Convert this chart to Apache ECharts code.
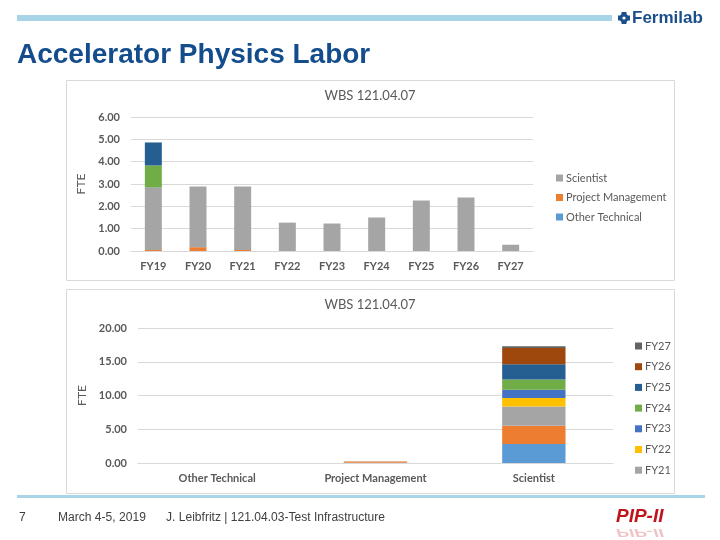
<!DOCTYPE html>
<html>
<head>
<meta charset="utf-8">
<script src="https://cdn.jsdelivr.net/npm/echarts@6/dist/echarts.min.js"></script>
<style>html,body{margin:0;padding:0;background:#fff}#c{width:720px;height:540px}</style>
</head>
<body>
<div id="c"></div>
<script>
// ---- data ----
var years = ['FY19','FY20','FY21','FY22','FY23','FY24','FY25','FY26','FY27'];
var scientist = [2.80, 2.72, 2.84, 1.27, 1.23, 1.50, 2.26, 2.40, 0.28];
var projMgmt = [0.05, 0.17, 0.05, 0, 0, 0, 0, 0, 0];
var otherTech = [0, 0, 0, 0, 0, 0, 0, 0, 0];
var extraGreen = [0.98, 0, 0, 0, 0, 0, 0, 0, 0];
var extraDarkBlue = [1.03, 0, 0, 0, 0, 0, 0, 0, 0];
var laborTypes = ['Other Technical','Project Management','Scientist'];
var topTicks = [0, 6, 1];
var bottomTicks = [0, 20, 5];
var topLegend = ['Scientist','Project Management','Other Technical'];
var bottomLegend = ['FY27','FY26','FY25','FY24','FY23','FY22','FY21'];

var yearColors = ['#5B9BD5','#ED7D31','#A5A5A5','#FFC000','#4472C4','#70AD47','#255E91','#9E480E','#636363'];
var FONT = 'Lato, "Open Sans", sans-serif';
var TXT = '#595959';
var FOOT = '12.5px "Liberation Sans", Arial, sans-serif';

var chart = echarts.init(document.getElementById('c'));

var series = [];
function topBar(name, data, color) {
  series.push({name: name, type: 'bar', stack: 'top', xAxisIndex: 0, yAxisIndex: 0,
    barWidth: '38%', data: data, itemStyle: {color: color}});
}
topBar('Other Technical', otherTech, '#5B9BD5');
topBar('Project Management', projMgmt, '#ED7D31');
topBar('Scientist', scientist, '#A5A5A5');
topBar('Engineer', extraGreen, '#70AD47');
topBar('Technician', extraDarkBlue, '#255E91');

years.forEach(function (y, i) {
  series.push({name: y, type: 'bar', stack: 'bottom', xAxisIndex: 1, yAxisIndex: 1,
    barWidth: '40%', data: [otherTech[i], projMgmt[i], scientist[i]],
    itemStyle: {color: yearColors[i]}});
});

function yAxis(idx, t, gap) {
  return {type: 'value', gridIndex: idx, min: t[0], max: t[1], interval: t[2],
    name: 'FTE', nameLocation: 'middle', nameGap: gap, nameRotate: 90,
    nameTextStyle: {color: TXT, fontSize: 12, fontFamily: FONT},
    axisLine: {show: false}, axisTick: {show: false},
    axisLabel: {color: TXT, fontSize: 11, fontWeight: 'bold', fontFamily: FONT, margin: 11,
      formatter: function (v) { return v.toFixed(2); }},
    splitLine: {lineStyle: {color: '#D9D9D9'}}};
}
function xAxis(idx, cats) {
  return {type: 'category', gridIndex: idx, data: cats,
    axisLine: {lineStyle: {color: '#D9D9D9'}}, axisTick: {show: false},
    axisLabel: {color: TXT, fontSize: 11, fontWeight: 'bold', fontFamily: FONT, margin: 10}};
}

function footText(x, s) {
  return {type: 'text', x: x, y: 518, scaleX: 0.965, originX: 0,
    style: {text: s, fill: '#404040', font: FOOT, textVerticalAlign: 'middle'}};
}

chart.setOption({
  animation: false,
  grid: [
    {left: 131, right: 187, top: 117, bottom: 289},
    {left: 138, right: 107, top: 328, bottom: 77}
  ],
  xAxis: [xAxis(0, years), xAxis(1, laborTypes)],
  yAxis: [yAxis(0, topTicks, 43), yAxis(1, bottomTicks, 50)],
  legend: [
    {data: topLegend, orient: 'vertical', left: 551, top: 166, itemWidth: 7, itemHeight: 7,
      itemGap: 5.5, selectedMode: false, icon: 'rect',
      textStyle: {color: TXT, fontSize: 11, fontFamily: FONT, lineHeight: 14, padding: [0,0,0,-2]}},
    {data: bottomLegend, orient: 'vertical', left: 630, top: 334, itemWidth: 7, itemHeight: 7,
      itemGap: 6.7, selectedMode: false, icon: 'rect',
      textStyle: {color: TXT, fontSize: 11, fontFamily: FONT, lineHeight: 14, padding: [0,0,0,-2]}}
  ],
  series: series,
  graphic: [
    // slide decorations
    {type: 'rect', shape: {x: 17, y: 15, width: 595, height: 6}, style: {fill: '#A8D4E8'}},
    {type: 'rect', shape: {x: 17, y: 495, width: 688, height: 3}, style: {fill: '#A8D4E8'}},
    {type: 'group', x: 624, y: 18, children: [
      {type: 'rect', shape: {x: -6, y: -2.5, width: 12, height: 5}, style: {fill: '#1B4F8A'}},
      {type: 'rect', shape: {x: -2.5, y: -6, width: 5, height: 12}, style: {fill: '#1B4F8A'}},
      {type: 'circle', shape: {cx: 0, cy: 0, r: 4.5}, style: {fill: '#1B4F8A'}},
      {type: 'circle', shape: {cx: 0, cy: 0, r: 1.6}, style: {fill: '#fff'}}
    ]},
    {type: 'text', x: 632, y: 18, style: {text: 'Fermilab', fill: '#1B4F8A',
      font: 'bold 17px "Liberation Sans", Arial, sans-serif', textVerticalAlign: 'middle'}},
    {type: 'text', x: 17, y: 55, style: {text: 'Accelerator Physics Labor', fill: '#144D8C',
      font: 'bold 28px "Liberation Sans", Arial, sans-serif', textVerticalAlign: 'middle'}},
    footText(19, '7'),
    footText(58, 'March 4-5, 2019'),
    footText(166, 'J. Leibfritz | 121.04.03-Test Infrastructure'),
    {type: 'text', x: 616, y: 517, style: {text: 'PIP-II', fill: '#C0141B',
      font: 'italic bold 19px "Liberation Sans", Arial, sans-serif', textVerticalAlign: 'middle'}},
    {type: 'text', x: 616, y: 527, scaleY: -0.55, originY: 0, style: {text: 'PIP-II', fill: 'rgba(192,20,27,0.25)',
      font: 'italic bold 19px "Liberation Sans", Arial, sans-serif', textVerticalAlign: 'bottom'}},
    // chart frames
    {type: 'rect', z: -1, shape: {x: 66.5, y: 80.5, width: 608, height: 200}, style: {fill: '#fff', stroke: '#D9D9D9', lineWidth: 1}},
    {type: 'rect', z: -1, shape: {x: 66.5, y: 289.5, width: 608, height: 204}, style: {fill: '#fff', stroke: '#D9D9D9', lineWidth: 1}},
    {type: 'text', x: 370, y: 96, style: {text: 'WBS 121.04.07', fill: TXT, font: '13px ' + FONT,
      textAlign: 'center', textVerticalAlign: 'middle'}},
    {type: 'text', x: 370, y: 305, style: {text: 'WBS 121.04.07', fill: TXT, font: '13px ' + FONT,
      textAlign: 'center', textVerticalAlign: 'middle'}}
  ]
});
</script>
</body>
</html>
